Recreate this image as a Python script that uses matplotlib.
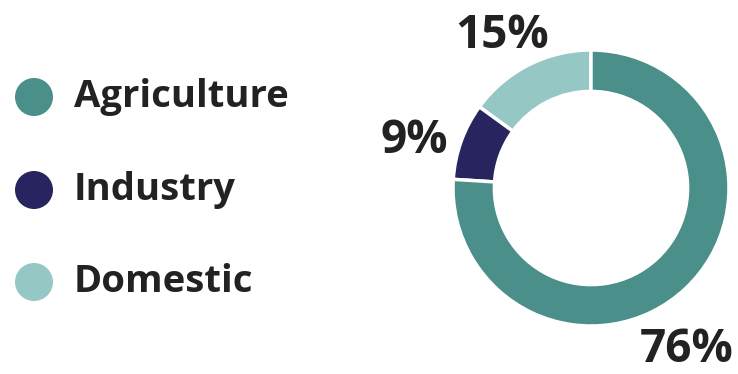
import matplotlib
matplotlib.use("Agg")
import matplotlib.pyplot as plt
from matplotlib.patches import Circle

categories = ["Agriculture", "Industry", "Domestic"]
values = [76, 9, 15]
colors = ["#4b8f8b", "#28245f", "#95c8c5"]
pct_labels = ["76%", "9%", "15%"]

W, H = 738, 374
fig = plt.figure(figsize=(W / 100, H / 100), dpi=100)
fig.patch.set_facecolor("white")

# pixel-coordinate overlay axes
bg = fig.add_axes([0, 0, 1, 1])
bg.set_xlim(0, W)
bg.set_ylim(H, 0)
bg.axis("off")

# donut
cx, cy, R = 591, 188, 138
ax = fig.add_axes([(cx - R) / W, (H - cy - R) / H, 2 * R / W, 2 * R / H])
order = [2, 1, 0]  # Domestic, Industry, Agriculture counter-clockwise from top
ax.pie([values[i] for i in order], colors=[colors[i] for i in order],
       startangle=90, counterclock=True, radius=1,
       wedgeprops=dict(width=0.3, edgecolor="white", linewidth=2.5))
ax.set_xlim(-1, 1)
ax.set_ylim(-1, 1)
ax.axis("off")

font = "Open Sans"
txtcol = "#222222"
label_pos = {"76%": (687, 349), "9%": (414, 140), "15%": (502, 35)}
for lab in pct_labels:
    x, y = label_pos[lab]
    bg.text(x, y, lab, ha="center", va="center", fontsize=33,
            fontweight="bold", color=txtcol, family=font)

leg_y = [97, 190, 282]
for cat, col, y in zip(categories, colors, leg_y):
    bg.add_patch(Circle((34, y), 19, facecolor=col, edgecolor="none"))
    bg.text(74, y, cat, ha="left", va="center", fontsize=27.5,
            fontweight="bold", color=txtcol, family=font)

fig.savefig("out.png", dpi=100)
